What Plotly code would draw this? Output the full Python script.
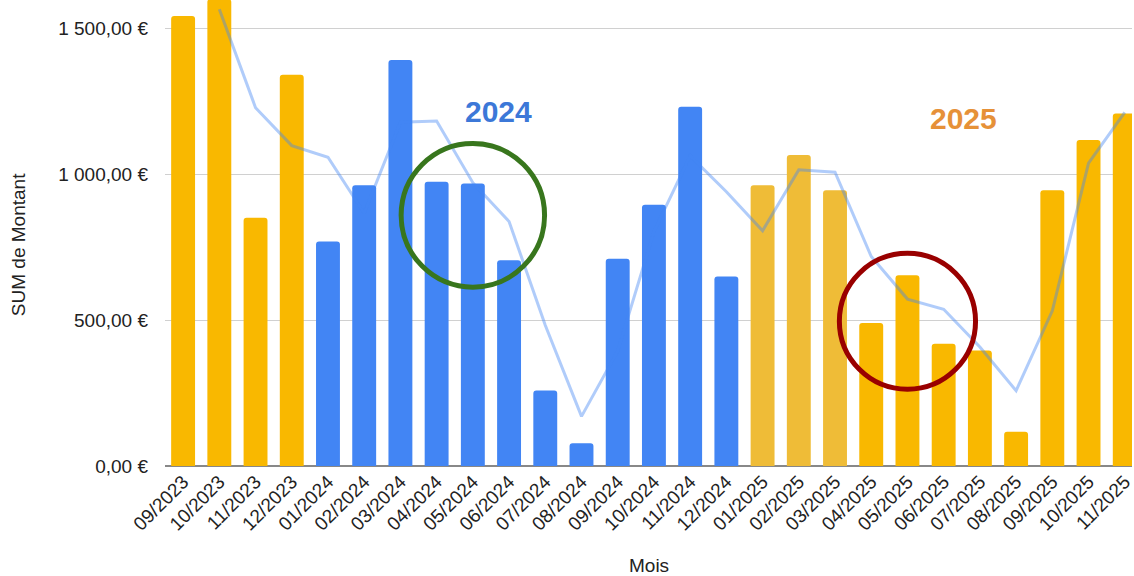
import plotly.graph_objects as go

months = ["09/2023", "10/2023", "11/2023", "12/2023",
          "01/2024", "02/2024", "03/2024", "04/2024", "05/2024", "06/2024",
          "07/2024", "08/2024", "09/2024", "10/2024", "11/2024", "12/2024",
          "01/2025", "02/2025", "03/2025", "04/2025", "05/2025", "06/2025",
          "07/2025", "08/2025", "09/2025", "10/2025", "11/2025"]
amounts = [1542, 1600, 851, 1341,
           769, 962, 1391, 974, 968, 705,
           259, 78, 710, 895, 1231, 649,
           962, 1066, 945, 490, 654, 419,
           396, 117, 945, 1117, 1208]
trend_months = months[1:]
trend_values = [1565, 1228, 1098, 1058, 866, 1178, 1182, 971, 838,
                482, 170, 394, 803, 1063, 940, 806, 1015, 1007, 718,
                572, 537, 408, 258, 532, 1038, 1212]
y_ticks = [0, 500, 1000, 1500]
y_tick_labels = ["0,00 €", "500,00 €", "1 000,00 €", "1 500,00 €"]

YELLOW = "#F9B800"
SOFT_YELLOW = "#EFBC37"
BLUE = "#4285F4"
soft_months = {"01/2025", "02/2025", "03/2025"}
colors = []
for m in months:
    if m.endswith("2024"):
        colors.append(BLUE)
    elif m in soft_months:
        colors.append(SOFT_YELLOW)
    else:
        colors.append(YELLOW)

FONT = "Liberation Sans, Arial, sans-serif"

fig = go.Figure()
fig.add_trace(go.Bar(x=months, y=amounts, marker=dict(color=colors, line=dict(width=0)),
                     showlegend=False))
fig.add_trace(go.Scatter(x=trend_months, y=trend_values, mode="lines",
                         line=dict(color="rgba(66,133,244,0.42)", width=3),
                         showlegend=False))

idx = {m: i for i, m in enumerate(months)}
# highlight circles
fig.add_shape(type="circle", xref="x", yref="y",
              x0=idx["05/2024"] - 1.98, x1=idx["05/2024"] + 1.98,
              y0=859 - 246, y1=859 + 246,
              line=dict(color="#38761D", width=5))
fig.add_shape(type="circle", xref="x", yref="y",
              x0=idx["05/2025"] - 1.88, x1=idx["05/2025"] + 1.88,
              y0=496 - 233, y1=496 + 233,
              line=dict(color="#990000", width=5))

fig.add_annotation(x=idx["04/2024"] + 1.7, y=1214, xref="x", yref="y", text="<b>2024</b>",
                   showarrow=False, font=dict(family=FONT, size=30, color="#3C78D8"))
fig.add_annotation(x=idx["06/2025"] + 0.56, y=1190, xref="x", yref="y", text="<b>2025</b>",
                   showarrow=False, font=dict(family=FONT, size=30, color="#E69138"))

fig.add_annotation(x=0.5, y=-0.214, xref="paper", yref="paper", text="Mois",
                   showarrow=False, font=dict(family=FONT, size=19, color="#222"),
                   xanchor="center", yanchor="middle")
fig.add_annotation(x=-0.152, y=0.474, xref="paper", yref="paper", text="SUM de Montant",
                   showarrow=False, textangle=-90, font=dict(family=FONT, size=19, color="#222"),
                   xanchor="center", yanchor="middle")

fig.update_layout(
    width=1134, height=576,
    margin=dict(l=165, r=0, t=0, b=110),
    paper_bgcolor="white", plot_bgcolor="white",
    bargap=0.34, barcornerradius=3,
    font=dict(family=FONT, size=19, color="#222"),
    xaxis=dict(range=[-0.5, 26.2], tickangle=-45, showgrid=False, ticks="",
               tickfont=dict(family=FONT, size=19, color="#222"),
               showline=False, zeroline=False),
    yaxis=dict(range=[0, 1597], tickvals=y_ticks, ticktext=y_tick_labels,
               showgrid=True, gridcolor="#D0D0D0", gridwidth=1.3,
               zeroline=True, zerolinecolor="#888888", zerolinewidth=2,
               tickfont=dict(family=FONT, size=19, color="#222"),
               ticklabelstandoff=16, showline=False),
)

fig.write_html("out.html", config={"displayModeBar": False},
               post_script="document.body.style.margin='0';")
